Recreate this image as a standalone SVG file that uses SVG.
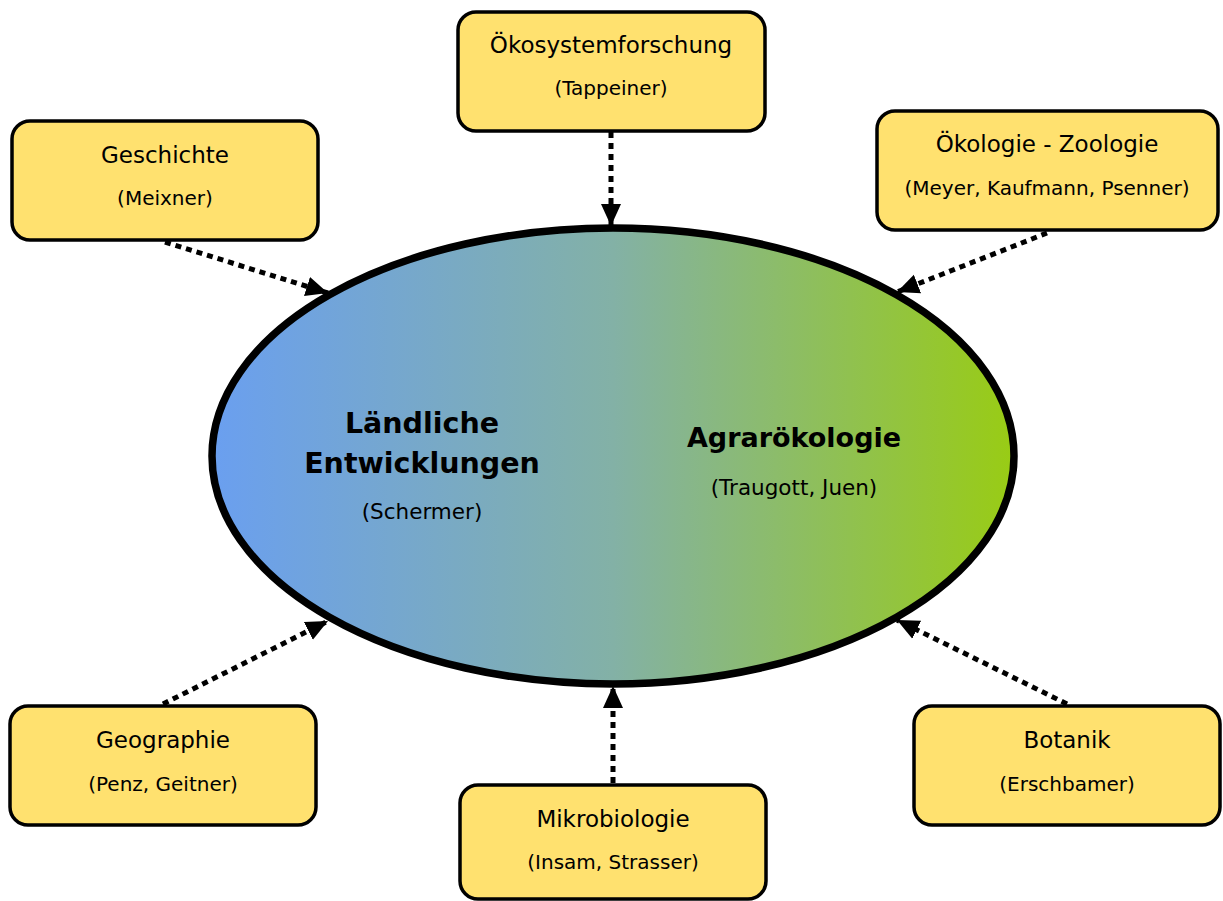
<svg xmlns="http://www.w3.org/2000/svg" width="1223" height="901" viewBox="0 0 1223 901">
<defs>
<linearGradient id="g" x1="0" y1="0" x2="1" y2="0">
<stop offset="0" stop-color="#6a9ff0"/>
<stop offset="0.5" stop-color="#83b1a6"/>
<stop offset="1" stop-color="#99cc14"/>
</linearGradient>
<marker id="ah" markerUnits="userSpaceOnUse" markerWidth="24" markerHeight="24" viewBox="0 0 24 24" refX="22" refY="12" orient="auto">
<path d="M0,2 L22,12 L0,22 Z" fill="#000"/>
</marker>
<style>
.box{fill:#ffe16f;stroke:#000;stroke-width:3.5}
.t{font-family:"DejaVu Sans",Verdana,sans-serif;font-size:23px;text-anchor:middle;fill:#000}
.s{font-family:"DejaVu Sans",Verdana,sans-serif;font-size:20px;text-anchor:middle;fill:#000}
.b{font-family:"DejaVu Sans",Verdana,sans-serif;font-size:28.5px;font-weight:bold;text-anchor:middle;fill:#000}
.c{fill:none;stroke:#000;stroke-width:5;stroke-dasharray:6 5;marker-end:url(#ah)}
</style>
</defs>
<g id="center">
<ellipse cx="613" cy="456" rx="401" ry="228" fill="url(#g)" stroke="#000" stroke-width="7.5"/>
<text class="b" x="422" y="433">Ländliche</text>
<text class="b" x="422" y="473">Entwicklungen</text>
<text class="s" x="422" y="519" style="font-size:21.5px">(Schermer)</text>
<text class="b" x="794" y="447" style="font-size:27px">Agrarökologie</text>
<text class="s" x="794" y="495" style="font-size:21.5px">(Traugott, Juen)</text>
</g>
<g id="connectors">
<line class="c" x1="165" y1="242" x2="328" y2="293"/>
<line class="c" x1="611" y1="132" x2="611" y2="226"/>
<line class="c" x1="1047" y1="233" x2="897" y2="292"/>
<line class="c" x1="163" y1="704" x2="328" y2="621"/>
<line class="c" x1="613" y1="783" x2="613" y2="686"/>
<line class="c" x1="1067" y1="704" x2="897" y2="620"/>
</g>
<g id="geschichte">
<rect class="box" x="12" y="121" width="306" height="119" rx="18"/>
<text class="t" x="165" y="163">Geschichte</text>
<text class="s" x="165" y="205">(Meixner)</text>
</g>
<g id="oekosystemforschung">
<rect class="box" x="458" y="12" width="307" height="119" rx="18"/>
<text class="t" x="611" y="53">Ökosystemforschung</text>
<text class="s" x="611" y="95">(Tappeiner)</text>
</g>
<g id="oekologie">
<rect class="box" x="877" y="111" width="341" height="119" rx="18"/>
<text class="t" x="1047" y="152">Ökologie - Zoologie</text>
<text class="s" x="1047" y="195">(Meyer, Kaufmann, Psenner)</text>
</g>
<g id="geographie">
<rect class="box" x="10" y="706" width="306" height="119" rx="18"/>
<text class="t" x="163" y="748">Geographie</text>
<text class="s" x="163" y="791">(Penz, Geitner)</text>
</g>
<g id="mikrobiologie">
<rect class="box" x="460" y="785" width="306" height="114" rx="18"/>
<text class="t" x="613" y="827">Mikrobiologie</text>
<text class="s" x="613" y="869">(Insam, Strasser)</text>
</g>
<g id="botanik">
<rect class="box" x="914" y="706" width="306" height="119" rx="18"/>
<text class="t" x="1067" y="748">Botanik</text>
<text class="s" x="1067" y="791">(Erschbamer)</text>
</g>
</svg>
